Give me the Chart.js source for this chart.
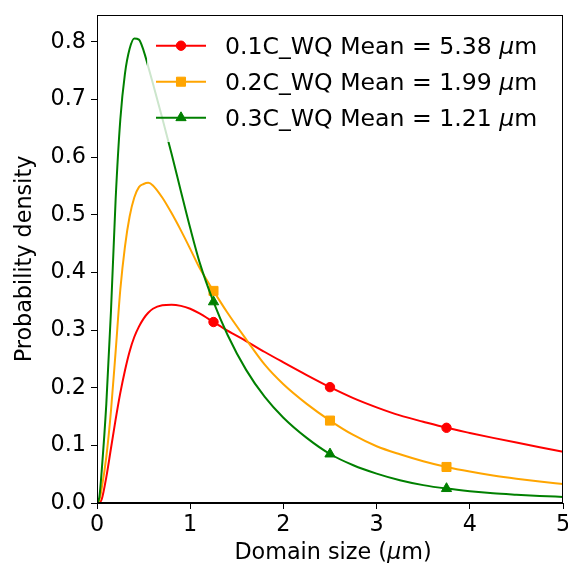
<!DOCTYPE html>
<html>
<head>
<meta charset="utf-8">
<script src="https://cdn.jsdelivr.net/npm/chart.js@4.4.0/dist/chart.umd.min.js"></script>
<style>
html,body{margin:0;padding:0;background:#ffffff;}
canvas{display:block;}
</style>
</head>
<body>
<canvas id="c" width="568" height="563"></canvas>
<script>
// ---- data ----
const xValues = [0, 0.025, 0.05, 0.1, 0.15, 0.2, 0.25, 0.3, 0.35, 0.4, 0.45, 0.5, 0.55, 0.6, 0.7, 0.8, 0.9, 1.0, 1.1, 1.25, 1.4, 1.6, 1.8, 2.0, 2.25, 2.5, 2.75, 3.0, 3.25, 3.5, 3.75, 4.0, 4.25, 4.5, 4.75, 5.0];
const red01C = [0, 0.001, 0.006, 0.045, 0.095, 0.145, 0.191, 0.230, 0.263, 0.288, 0.306, 0.320, 0.330, 0.337, 0.343, 0.344, 0.342, 0.337, 0.329, 0.314, 0.299, 0.281, 0.262, 0.244, 0.222, 0.201, 0.182, 0.166, 0.152, 0.141, 0.1305, 0.1215, 0.113, 0.1048, 0.0968, 0.089];
const orange02C = [0, 0.005, 0.025, 0.080, 0.160, 0.263, 0.370, 0.445, 0.497, 0.530, 0.548, 0.5535, 0.5555, 0.551, 0.530, 0.503, 0.473, 0.441, 0.408, 0.368, 0.330, 0.284, 0.240, 0.206, 0.172, 0.143, 0.118, 0.0985, 0.0845, 0.0725, 0.0625, 0.0545, 0.0478, 0.0422, 0.0373, 0.033];
const green03C = [0, 0.010, 0.055, 0.172, 0.333, 0.527, 0.665, 0.745, 0.788, 0.806, 0.804, 0.785, 0.757, 0.728, 0.668, 0.606, 0.541, 0.477, 0.418, 0.349, 0.292, 0.231, 0.184, 0.148, 0.113, 0.085, 0.0655, 0.051, 0.0395, 0.031, 0.025, 0.0205, 0.017, 0.0145, 0.0123, 0.0105];
const markerX = [1.25, 2.5, 3.75];
const seriesNames = ['0.1C_WQ', '0.2C_WQ', '0.3C_WQ'];
const seriesMeans = ['5.38', '1.99', '1.21'];
const xTicks = [0, 1, 2, 3, 4, 5];
const yTicks = [0, 0.1, 0.2, 0.3, 0.4, 0.5, 0.6, 0.7, 0.8];
const xTitle = ['Domain size (', '\u03bc', 'm)'];
const yTitle = 'Probability density';

// ---- styling ----
const FONT = '"DejaVu Sans", "Liberation Sans", sans-serif';
const colors = ['#ff0000', '#ffa500', '#008000'];
const styles = ['circle', 'rect', 'triangle'];
const radii = [4.7, 6.4, 5.9];

function toPoints(vals) { return xValues.map((x, i) => ({x: x, y: vals[i]})); }
function markerRadii(r) { return xValues.map(x => markerX.indexOf(x) >= 0 ? r : 0); }

const seriesVals = [red01C, orange02C, green03C];
const datasets = seriesVals.map((vals, k) => ({
  label: seriesNames[k],
  data: toPoints(vals),
  borderColor: colors[k],
  backgroundColor: colors[k],
  borderWidth: 2,
  fill: false,
  cubicInterpolationMode: 'monotone',
  pointStyle: styles[k],
  pointRadius: markerRadii(radii[k]),
  pointHoverRadius: 0,
  pointBackgroundColor: colors[k],
  pointBorderColor: colors[k],
  pointBorderWidth: 1,
  order: 3 - k
}));

function drawMarker(ctx, style, r, x, y, color) {
  ctx.save();
  ctx.fillStyle = color; ctx.strokeStyle = color; ctx.lineWidth = 1;
  ctx.beginPath();
  if (style === 'circle') {
    ctx.arc(x, y, r, 0, Math.PI * 2);
  } else if (style === 'rect') {
    const s = r * Math.SQRT1_2;
    ctx.rect(x - s, y - s, 2 * s, 2 * s);
  } else {
    ctx.moveTo(x, y - r);
    ctx.lineTo(x + r * Math.sin(2 * Math.PI / 3), y - r * Math.cos(2 * Math.PI / 3));
    ctx.lineTo(x + r * Math.sin(4 * Math.PI / 3), y - r * Math.cos(4 * Math.PI / 3));
    ctx.closePath();
  }
  ctx.fill(); ctx.stroke();
  ctx.restore();
}

const mplPlugin = {
  id: 'mplLook',
  afterDatasetsDraw(chart) {
    const ctx = chart.ctx;
    ctx.save();
    // legend box (semi-transparent white, like matplotlib)
    const bx = 147, by = 27, bw = 404, bh = 115;
    ctx.fillStyle = 'rgba(255,255,255,0.8)';
    ctx.beginPath();
    if (ctx.roundRect) ctx.roundRect(bx, by, bw, bh, 4); else ctx.rect(bx, by, bw, bh);
    ctx.fill();
    const rowY = [45.7, 81.7, 117.7];
    const lf = 23.6;
    for (let k = 0; k < 3; k++) {
      const y = rowY[k];
      ctx.strokeStyle = colors[k]; ctx.lineWidth = 2;
      ctx.beginPath(); ctx.moveTo(156, y); ctx.lineTo(206, y); ctx.stroke();
      drawMarker(ctx, styles[k], radii[k], 181, y, colors[k]);
      ctx.fillStyle = '#000000';
      ctx.textBaseline = 'alphabetic'; ctx.textAlign = 'left';
      let tx = 225;
      const by2 = y + 0.365 * lf;
      const part1 = seriesNames[k] + ' Mean = ' + seriesMeans[k] + ' ';
      ctx.font = lf + 'px ' + FONT;
      ctx.fillText(part1, tx, by2); tx += ctx.measureText(part1).width;
      ctx.font = 'italic ' + lf + 'px ' + FONT;
      ctx.fillText('\u03bc', tx, by2); tx += ctx.measureText('\u03bc').width;
      ctx.font = lf + 'px ' + FONT;
      ctx.fillText('m', tx, by2);
    }
    ctx.restore();
  },
  afterDraw(chart) {
    const ctx = chart.ctx;
    const a = chart.chartArea;
    ctx.save();
    // frame (top & right spines)
    ctx.strokeStyle = '#000000'; ctx.lineWidth = 1;
    ctx.strokeRect(Math.round(a.left) + 0.5, Math.round(a.top) + 0.5, Math.round(a.right - a.left) - 1, Math.round(a.bottom - a.top) - 1);
    // x title with italic mu
    const f = 22.3;
    ctx.fillStyle = '#000000';
    ctx.textBaseline = 'alphabetic'; ctx.textAlign = 'left';
    const fonts = [f + 'px ' + FONT, 'italic ' + f + 'px ' + FONT, f + 'px ' + FONT];
    let w = 0;
    const ws = xTitle.map((t, i) => { ctx.font = fonts[i]; const m = ctx.measureText(t).width; w += m; return m; });
    let tx = (a.left + a.right) / 2 + 3 - w / 2;
    xTitle.forEach((t, i) => { ctx.font = fonts[i]; ctx.fillText(t, tx, 559); tx += ws[i]; });
    // y title
    ctx.translate(30.5, (a.top + a.bottom) / 2);
    ctx.rotate(-Math.PI / 2);
    ctx.textAlign = 'center';
    ctx.font = f + 'px ' + FONT;
    ctx.fillText(yTitle, 0, 0);
    ctx.restore();
  }
};

const tickFont = {family: FONT, size: 22.3};

new Chart(document.getElementById('c'), {
  type: 'line',
  data: {datasets: datasets},
  plugins: [mplPlugin],
  options: {
    responsive: false,
    animation: false,
    devicePixelRatio: 1,
    events: [],
    layout: {padding: {top: 15, right: 5, left: 0, bottom: 0}},
    plugins: {legend: {display: false}, tooltip: {enabled: false}, title: {display: false}},
    scales: {
      x: {
        type: 'linear', min: 0, max: 5,
        afterFit(s) { s.height = 60; s.paddingLeft = 0; s.paddingRight = 0; },
        afterBuildTicks(s) { s.ticks = xTicks.map(v => ({value: v})); },
        ticks: {color: '#000000', font: tickFont, padding: 3, maxRotation: 0, autoSkip: false, callback: v => String(v)},
        grid: {display: true, drawOnChartArea: false, drawTicks: true, tickLength: 6, color: '#000000', lineWidth: 1},
        border: {display: true, color: '#000000', width: 1}
      },
      y: {
        type: 'linear', min: 0, max: 0.8467,
        afterFit(s) { s.width = 97; s.paddingTop = 0; s.paddingBottom = 0; },
        afterBuildTicks(s) { s.ticks = yTicks.map(v => ({value: v})); },
        ticks: {color: '#000000', font: tickFont, padding: 5, autoSkip: false, callback: v => Number(v).toFixed(1)},
        grid: {display: true, drawOnChartArea: false, drawTicks: true, tickLength: 6, color: '#000000', lineWidth: 1},
        border: {display: true, color: '#000000', width: 1}
      }
    }
  }
});
</script>
</body>
</html>
